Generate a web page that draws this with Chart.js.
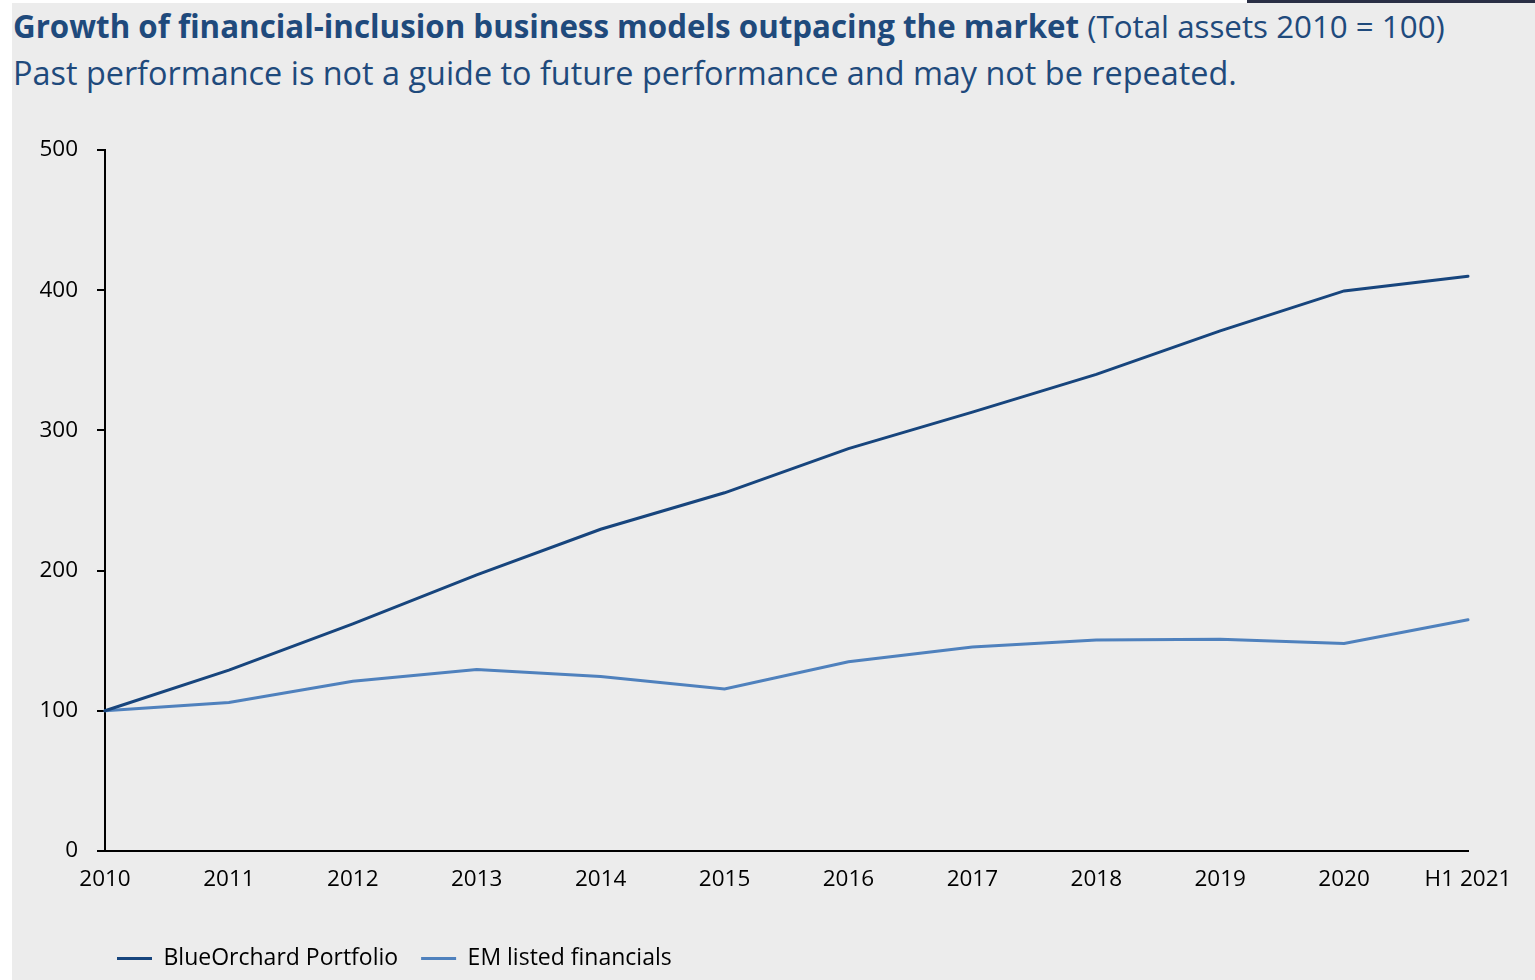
<!DOCTYPE html>
<html>
<head>
<meta charset="utf-8">
<script src="https://cdn.jsdelivr.net/npm/chart.js@4/dist/chart.umd.min.js"></script>
<style>
  html, body { margin: 0; padding: 0; background: #fff; }
  body { width: 1535px; height: 980px; position: relative; overflow: hidden; font-family: "Open Sans", sans-serif; }
  #panel { position: absolute; left: 12px; top: 3px; right: 0; bottom: 0; background: #ececec; }
  #corner { position: absolute; left: 1247px; top: 0; width: 288px; height: 3px; background: #2a2f45; }
  .title { position: absolute; left: 13px; color: #1f4a7c; white-space: nowrap; }
  #t1 { top: 5px; font-size: 31.3px; }
  #t2 { top: 50px; font-size: 32.4px; }
  #t1 b { font-weight: 700; }
  #wrap { position: absolute; left: 12px; top: 110px; width: 1523px; height: 870px; }
</style>
</head>
<body>
<div id="panel"></div>
<div id="corner"></div>
<div class="title" id="t1"><b>Growth of financial-inclusion business models outpacing the market</b> (Total assets 2010 = 100)</div>
<div class="title" id="t2">Past performance is not a guide to future performance and may not be repeated.</div>
<div id="wrap"><canvas id="chart"></canvas></div>
<script>
// Data
const years = ["2010", "2011", "2012", "2013", "2014", "2015", "2016", "2017", "2018", "2019", "2020", "H1 2021"];
const blueOrchard = [100, 129, 162, 197, 229.5, 255.5, 287, 313, 340, 371, 399.5, 410];
const emFinancials = [100, 106, 121, 129.5, 124.5, 115.5, 135, 145.5, 150.5, 151, 148, 165];
const yTicks = [0, 100, 200, 300, 400, 500];

const tickFont = { family: "'Open Sans', sans-serif", size: 22.5 };

// Legend sits further right than Chart.js puts it with align "start"
const legendShift = {
    id: "legendShift",
    afterLayout(chart) {
        chart.legend.left += 55;
    }
};

new Chart(document.getElementById("chart"), {
    type: "line",
    data: {
        labels: years,
        datasets: [{
            label: "BlueOrchard Portfolio",
            data: blueOrchard,
            borderColor: "#17457d",
            backgroundColor: "#17457d",
            borderWidth: 3,
            borderCapStyle: "round",
            pointRadius: 0,
            tension: 0,
            clip: false
        }, {
            label: "EM listed financials",
            data: emFinancials,
            borderColor: "#4f81bd",
            backgroundColor: "#4f81bd",
            borderWidth: 3,
            borderCapStyle: "round",
            pointRadius: 0,
            tension: 0,
            clip: false
        }]
    },
    options: {
        responsive: true,
        maintainAspectRatio: false,
        animation: false,
        layout: { padding: { left: 27, right: 67, top: 40, bottom: 0 } },
        plugins: {
            title: { display: false },
            tooltip: { enabled: false },
            legend: {
                position: "bottom",
                align: "start",
                labels: {
                    color: "#000",
                    font: { family: "'Open Sans', sans-serif", size: 23 },
                    boxWidth: 35,
                    boxHeight: 3,
                    padding: 23,
                    generateLabels(chart) {
                        return chart.data.datasets.map((ds, i) => ({
                            text: ds.label,
                            fillStyle: ds.borderColor,
                            strokeStyle: ds.borderColor,
                            lineWidth: 0,
                            datasetIndex: i
                        }));
                    }
                }
            }
        },
        scales: {
            x: {
                offset: false,
                grid: { display: false, drawTicks: false },
                border: { display: true, color: "#000", width: 2 },
                ticks: {
                    color: "#000",
                    font: tickFont,
                    padding: 15,
                    maxRotation: 0,
                    autoSkip: false
                },
                afterFit(scale) { scale.height = 73; }
            },
            y: {
                min: 0,
                max: 500,
                afterBuildTicks(scale) {
                    scale.ticks = yTicks.map(v => ({ value: v }));
                },
                grid: {
                    drawOnChartArea: false,
                    drawTicks: true,
                    tickLength: 8,
                    color: "#000",
                    lineWidth: 2
                },
                border: { display: true, color: "#000", width: 2 },
                ticks: {
                    color: "#000",
                    font: tickFont,
                    padding: 19
                },
                afterFit(scale) { scale.width = 66; }
            }
        }
    },
    plugins: [legendShift]
});
</script>
</body>
</html>
